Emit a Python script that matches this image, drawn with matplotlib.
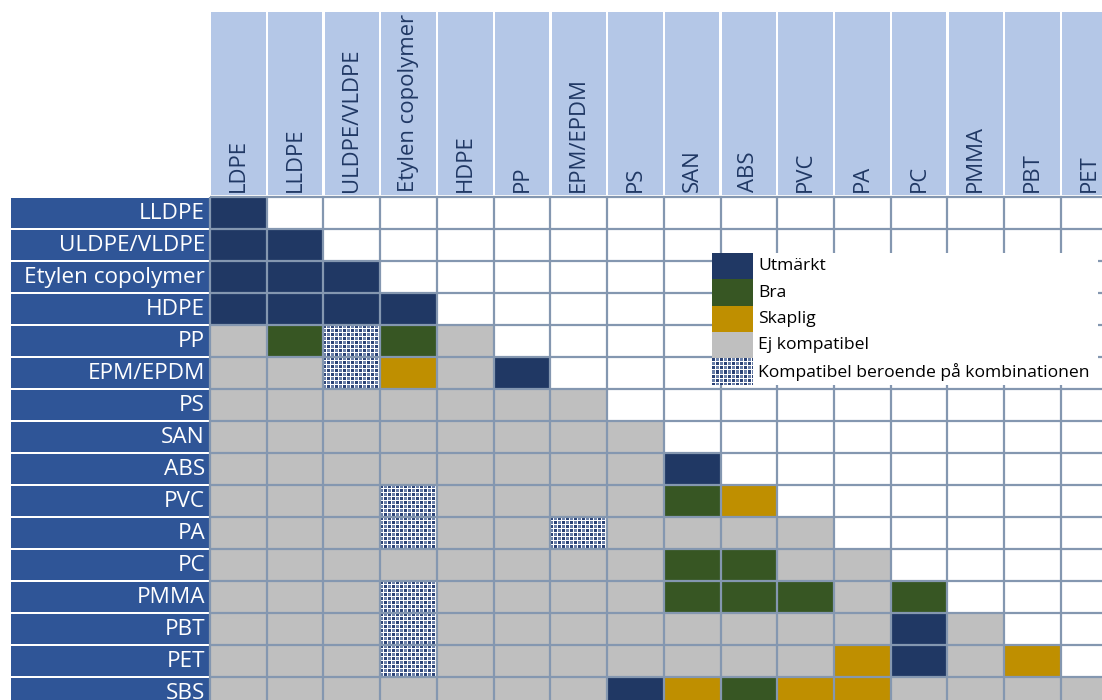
import numpy as np
import matplotlib
matplotlib.use("Agg")
import matplotlib.pyplot as plt
from matplotlib.patches import Rectangle
from matplotlib.colors import to_rgb

# ---------------- data ----------------
row_labels = ['LLDPE', 'ULDPE/VLDPE', 'Etylen copolymer', 'HDPE', 'PP', 'EPM/EPDM',
              'PS', 'SAN', 'ABS', 'PVC', 'PA', 'PC', 'PMMA', 'PBT', 'PET', 'SBS']
col_labels = ['LDPE', 'LLDPE', 'ULDPE/VLDPE', 'Etylen copolymer', 'HDPE', 'PP',
              'EPM/EPDM', 'PS', 'SAN', 'ABS', 'PVC', 'PA', 'PC', 'PMMA', 'PBT', 'PET']
legend_labels = ['Utmärkt', 'Bra', 'Skaplig', 'Ej kompatibel',
                 'Kompatibel beroende på kombinationen']
# 0 = empty, 1 = Utmärkt, 2 = Bra, 3 = Skaplig, 4 = Ej kompatibel, 5 = beroende på kombination
r_LLDPE  = [1, 0, 0, 0, 0, 0, 0, 0, 0, 0, 0, 0, 0, 0, 0, 0]
r_ULDPE  = [1, 1, 0, 0, 0, 0, 0, 0, 0, 0, 0, 0, 0, 0, 0, 0]
r_ETYLEN = [1, 1, 1, 0, 0, 0, 0, 0, 0, 0, 0, 0, 0, 0, 0, 0]
r_HDPE   = [1, 1, 1, 1, 0, 0, 0, 0, 0, 0, 0, 0, 0, 0, 0, 0]
r_PP     = [4, 2, 5, 2, 4, 0, 0, 0, 0, 0, 0, 0, 0, 0, 0, 0]
r_EPM    = [4, 4, 5, 3, 4, 1, 0, 0, 0, 0, 0, 0, 0, 0, 0, 0]
r_PS     = [4, 4, 4, 4, 4, 4, 4, 0, 0, 0, 0, 0, 0, 0, 0, 0]
r_SAN    = [4, 4, 4, 4, 4, 4, 4, 4, 0, 0, 0, 0, 0, 0, 0, 0]
r_ABS    = [4, 4, 4, 4, 4, 4, 4, 4, 1, 0, 0, 0, 0, 0, 0, 0]
r_PVC    = [4, 4, 4, 5, 4, 4, 4, 4, 2, 3, 0, 0, 0, 0, 0, 0]
r_PA     = [4, 4, 4, 5, 4, 4, 5, 4, 4, 4, 4, 0, 0, 0, 0, 0]
r_PC     = [4, 4, 4, 4, 4, 4, 4, 4, 2, 2, 4, 4, 0, 0, 0, 0]
r_PMMA   = [4, 4, 4, 5, 4, 4, 4, 4, 2, 2, 2, 4, 2, 0, 0, 0]
r_PBT    = [4, 4, 4, 5, 4, 4, 4, 4, 4, 4, 4, 4, 1, 4, 0, 0]
r_PET    = [4, 4, 4, 5, 4, 4, 4, 4, 4, 4, 4, 3, 1, 4, 3, 0]
r_SBS    = [4, 4, 4, 4, 4, 4, 4, 1, 3, 2, 3, 3, 4, 4, 4, 4]
ratings = [r_LLDPE, r_ULDPE, r_ETYLEN, r_HDPE, r_PP, r_EPM, r_PS, r_SAN, r_ABS,
           r_PVC, r_PA, r_PC, r_PMMA, r_PBT, r_PET, r_SBS]

# ---------------- style ----------------
NAVY = '#203864'
GREEN = '#375623'
GOLD = '#BF8F00'
GRAY = '#BFBFBF'
fills = {1: NAVY, 2: GREEN, 3: GOLD, 4: GRAY}
ROWBOX = '#2F5597'
HEADBOX = '#B4C7E7'
HEADTXT = '#203864'
GRID = '#8497B0'
PAT_DARK = '#2A4276'
PAT_MID = '#6A7FA8'
FONT = ['Open Sans', 'DejaVu Sans']
plt.rcParams['font.family'] = FONT
ROW_FS = 16.2
HEAD_FS = 15.9
LEGEND_FS = 12.6

W, H = 1102, 700
X0, CW = 210, 56.73   # left of grid (px), column width (px)
Y0, RH = 197, 32.0    # top of grid (px), row height (px)

def px2x(p):
    return (p - X0) / CW

def px2y(p):
    return (p - Y0) / RH

fig = plt.figure(figsize=(W / 100, H / 100), dpi=100)
ax = fig.add_axes([0, 0, 1, 1])
ax.axis('off')

c_white = np.array(to_rgb('white'))
c_dark = np.array(to_rgb(PAT_DARK))
c_mid = np.array(to_rgb(PAT_MID))

def checker(x0, x1, y0, y1, z, period=4):
    # pixel-aligned small-checker texture (blue blocks separated by thin white lines)
    wpx = int(round((x1 - x0) * CW))
    hpx = int(round((y1 - y0) * RH))
    yy, xx = np.indices((hpx, wpx))
    img = np.empty((hpx, wpx, 3))
    alt = ((xx // period) + (yy // period)) % 2 == 0
    img[alt] = c_dark
    img[~alt] = c_mid
    line = (xx % period == period - 1) | (yy % period == period - 1)
    img[line] = c_white
    ax.imshow(img, extent=(x0, x1, y1, y0), interpolation='nearest',
              aspect='auto', zorder=z)

n_rows, n_cols = len(row_labels), len(col_labels)

# cells
for j, row in enumerate(ratings):
    for i, v in enumerate(row):
        if v in fills:
            ax.add_patch(Rectangle((i, j), 1, 1, facecolor=fills[v], edgecolor='none', zorder=1))
        elif v == 5:
            checker(i, i + 1, j, j + 1, 1)

# grid lines
for i in range(n_cols + 1):
    ax.plot([i, i], [0, n_rows], color=GRID, lw=1.6, zorder=3, solid_capstyle='butt')
for j in range(n_rows + 1):
    ax.plot([0, n_cols], [j, j], color=GRID, lw=1.6, zorder=3, solid_capstyle='butt')

# row header boxes
lx0 = px2x(11)
lx1 = px2x(209)
for j, lab in enumerate(row_labels):
    ax.add_patch(Rectangle((lx0, j + 0.03), lx1 - lx0, 0.94, facecolor=ROWBOX,
                           edgecolor='none', zorder=2))
    ax.text(px2x(205), j + 0.52, lab, ha='right', va='center', color='white',
            fontsize=ROW_FS, zorder=4)

# column header boxes
hy0 = px2y(12)
hy1 = px2y(195)
for i, lab in enumerate(col_labels):
    ax.add_patch(Rectangle((i + 0.02, hy0), 0.96, hy1 - hy0, facecolor=HEADBOX,
                           edgecolor='none', zorder=2))
    ax.text(i + 0.5, px2y(192), lab, rotation=90, ha='center', va='bottom',
            color=HEADTXT, fontsize=HEAD_FS, zorder=4)

# legend
bx0, bx1 = px2x(712), px2x(1098)
by0, by1 = px2y(253), px2y(385)
ax.add_patch(Rectangle((bx0, by0), bx1 - bx0, by1 - by0, facecolor='white',
                       edgecolor='none', zorder=5))
sw = px2x(753) - bx0
sh = (by1 - by0) / len(legend_labels)
for k, lab in enumerate(legend_labels):
    yk = by0 + k * sh
    if k < 4:
        ax.add_patch(Rectangle((bx0, yk), sw, sh, facecolor=fills[k + 1],
                               edgecolor='none', zorder=6))
    else:
        checker(bx0, bx0 + sw, yk, yk + sh, 6)
    ax.text(px2x(758), yk + sh * 0.5, lab, ha='left', va='center', color='black',
            fontsize=LEGEND_FS, zorder=7)

ax.set_xlim(px2x(0), px2x(W))
ax.set_ylim(px2y(H), px2y(0))

fig.savefig('out.png', dpi=100)
